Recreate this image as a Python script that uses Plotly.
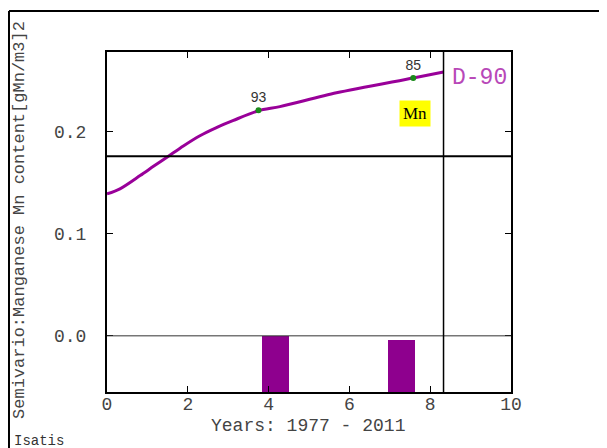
import plotly.graph_objects as go

# model curve (lag in years, semivariogram value)
lag_x = [0, 0.32, 0.82, 1.15, 1.52, 1.89, 2.30, 2.71, 3.13, 3.75, 4.28, 5.68, 7.58, 8.33]
model_y = [0.139, 0.144, 0.157, 0.166, 0.176, 0.186, 0.196, 0.204, 0.211, 0.2205, 0.2245, 0.238, 0.2526, 0.2585]

# experimental points and number of pairs
exp_x = [3.75, 7.58]
exp_y = [0.221, 0.2526]
pairs = ["93", "85"]

# histogram of pairs (bars hanging from the bottom of the axis)
bar_x = [4.17, 7.29]
bar_top = [0.0, -0.004]
bar_w = [0.66, 0.69]

sill = 0.176
max_lag = 8.33
y_min, y_max = -0.055, 0.278
x_ticks = [0, 2, 4, 6, 8, 10]
y_ticks = [0.0, 0.1, 0.2]

mono = "Liberation Mono"
purple = "#990099"

fig = go.Figure()
fig.add_trace(go.Bar(x=bar_x, y=[t - y_min for t in bar_top], base=[y_min] * len(bar_x),
                     width=bar_w, marker=dict(color="#8e008e", line=dict(width=0)),
                     showlegend=False, hoverinfo="skip"))
fig.add_trace(go.Scatter(x=lag_x, y=model_y, mode="lines",
                         line=dict(color=purple, width=3, shape="spline", smoothing=0.8),
                         showlegend=False))
fig.add_trace(go.Scatter(x=exp_x, y=exp_y, mode="markers+text", text=pairs, textposition="top center",
                         textfont=dict(family="Liberation Sans", size=14, color="#333"),
                         marker=dict(color="#1a8a1a", size=6), showlegend=False))

fig.add_hline(y=sill, line_color="black", line_width=2)
fig.add_hline(y=0, line_color="#333", line_width=1)
fig.add_vline(x=max_lag, line_color="black", line_width=1.5)

# outer frame
fig.add_shape(type="line", xref="paper", yref="paper", x0=-0.2426, x1=1.26, y0=1.1206, y1=1.1206,
              line=dict(color="black", width=2))
fig.add_shape(type="line", xref="paper", yref="paper", x0=-0.2426, x1=-0.2426, y0=-0.2, y1=1.1206,
              line=dict(color="black", width=2))

fig.add_annotation(x=8.49, y=0.2527, xref="x", yref="y", text="D-90", showarrow=False, xanchor="left",
                   font=dict(family=mono, size=23, color="#b848b8"))
fig.add_annotation(x=7.62, y=0.2176, xref="x", yref="y", text="Mn", showarrow=False, bgcolor="#ffff00",
                   borderpad=3, font=dict(family="Liberation Serif", size=17, color="black"))
fig.add_annotation(x=-0.2153, y=0.506, xref="paper", yref="paper", text="Semivario:Manganese Mn content[gMn/m3]2",
                   textangle=-90, showarrow=False, xanchor="center", yanchor="middle",
                   font=dict(family=mono, size=17, color="#444"))
fig.add_annotation(x=0.4975, y=-0.099, xref="paper", yref="paper", text="Years: 1977 - 2011",
                   showarrow=False, xanchor="center", yanchor="middle",
                   font=dict(family=mono, size=18, color="#444"))
fig.add_annotation(x=-0.235, y=-0.145, xref="paper", yref="paper", text="Isatis", xanchor="left",
                   yanchor="middle", showarrow=False, font=dict(family=mono, size=14, color="#333"))

fig.update_layout(
    width=607, height=448,
    margin=dict(l=99, r=104, t=44, b=64),
    plot_bgcolor="white", paper_bgcolor="white",
    showlegend=False,
    bargap=0,
)
fig.update_xaxes(range=[0, 10], tickvals=x_ticks, ticktext=[str(t) for t in x_ticks],
                 ticks="inside", ticklen=6, tickcolor="black", mirror="ticks",
                 showline=True, linecolor="black", linewidth=2, showgrid=False, zeroline=False,
                 ticklabelstandoff=-6,
                 tickfont=dict(family=mono, size=18, color="#444"))
fig.update_yaxes(range=[y_min, y_max], tickvals=y_ticks, ticktext=["0.0", "0.1", "0.2"],
                 ticks="inside", ticklen=6, tickcolor="black", mirror="ticks",
                 showline=True, linecolor="black", linewidth=2, showgrid=False, zeroline=False,
                 ticklabelstandoff=15,
                 tickfont=dict(family=mono, size=18, color="#444"))

fig.write_html("out.html")
